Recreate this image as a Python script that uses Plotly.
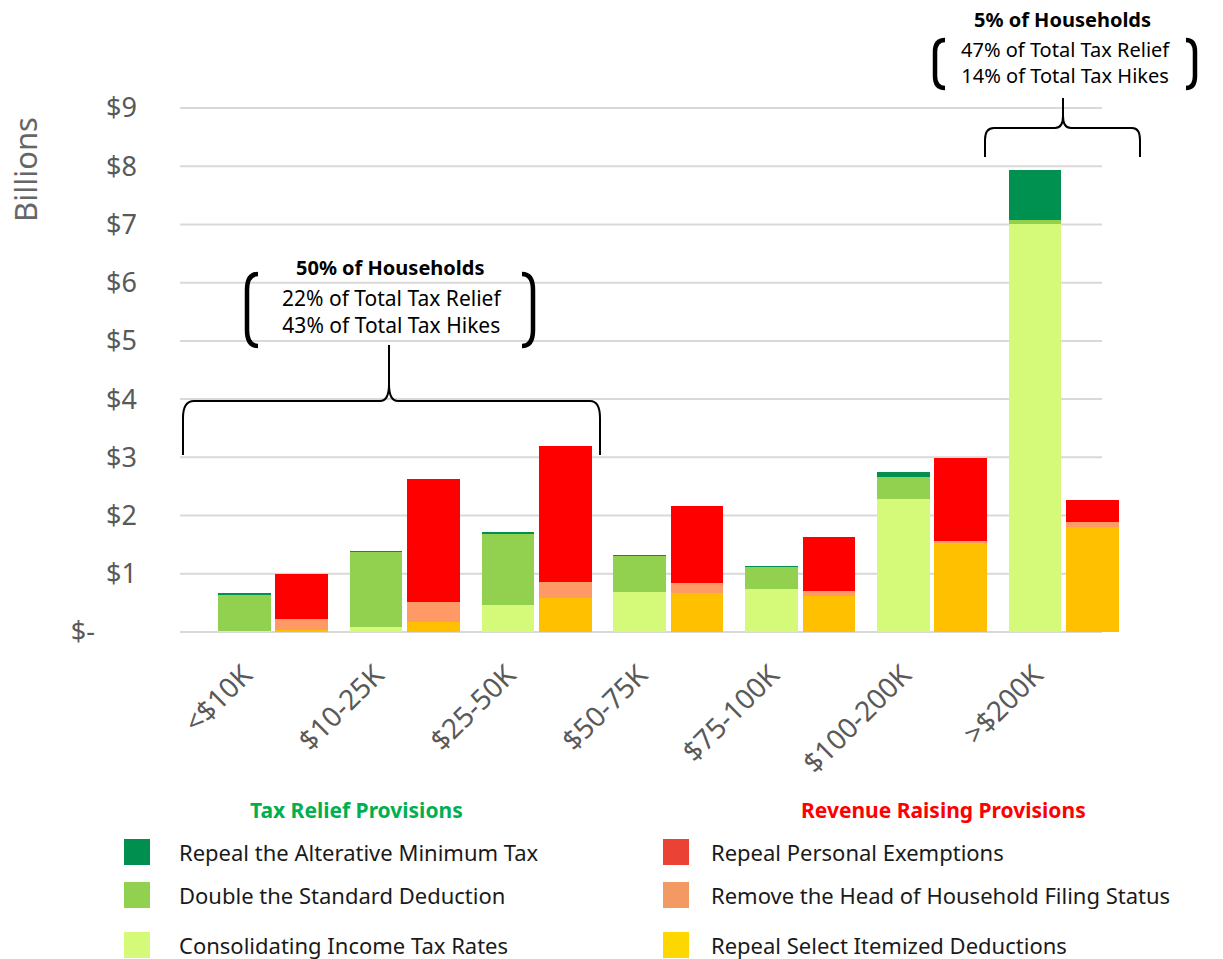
import plotly.graph_objects as go

# 소득구간별 세금 감면 / 증세 (단위: 10억 달러)
categories = ["<$10K", "$10-25K", "$25-50K", "$50-75K", "$75-100K", "$100-200K", ">$200K"]
ticks_y = [0, 1, 2, 3, 4, 5, 6, 7, 8, 9]
ticks_y_text = ["$-\u00a0\u00a0\u00a0\u00a0\u00a0\u00a0", "$1", "$2", "$3", "$4", "$5", "$6", "$7", "$8", "$9"]

# Tax relief provisions
amt = [0.02, 0.01, 0.02, 0.01, 0.01, 0.09, 0.86]
std_deduction = [0.63, 1.29, 1.24, 0.62, 0.38, 0.38, 0.07]
consolidating = [0.01, 0.09, 0.46, 0.69, 0.74, 2.28, 7.01]
# Revenue raising provisions
personal_exemptions = [0.77, 2.11, 2.34, 1.32, 0.92, 1.42, 0.38]
head_of_household = [0.19, 0.35, 0.28, 0.17, 0.09, 0.04, 0.09]
itemized = [0.04, 0.17, 0.58, 0.67, 0.62, 1.53, 1.80]

relief_names = ["Repeal the Alterative Minimum Tax", "Double the Standard Deduction",
                "Consolidating Income Tax Rates"]
raise_names = ["Repeal Personal Exemptions", "Remove the Head of Household Filing Status",
               "Repeal Select Itemized Deductions"]
relief_colors = ["#00904F", "#92D050", "#D5FA7A"]
raise_colors = ["#FF0000", "#FF9966", "#FFC000"]
relief_legend_colors = ["#008F4E", "#92D050", "#D5FA7A"]
raise_legend_colors = ["#EA4335", "#F39A64", "#FFD700"]

FONT = "Noto Sans, sans-serif"
GRAY = "#595959"
W, H = 1223, 959
L, R, T, B = 180, 1215, 5, 640        # plot area in pixels
X0_PX, X_STEP = 273, 131.8             # first group centre, group spacing
Y0_PX, Y_STEP = 632, 58.22             # $0 line, pixels per $1


def px_x(p):
    return (p - X0_PX) / X_STEP


def px_y(p):
    return (Y0_PX - p) / Y_STEP


def paper_x(p):
    return (p - L) / (R - L)


def paper_y(p):
    return (B - p) / (B - T)


n = len(categories)
x_relief = [i - 0.218 for i in range(n)]
x_raise = [i + 0.218 for i in range(n)]

fig = go.Figure()
relief_stack = [(consolidating, 2), (std_deduction, 1), (amt, 0)]
for vals, k in relief_stack:
    fig.add_trace(go.Bar(
        x=x_relief, y=vals, width=0.4, name=relief_names[k],
        marker=dict(color=relief_colors[k], line=dict(width=0)),
        customdata=categories,
        hovertemplate=f"<b>{relief_names[k]}</b><br>%{{customdata}}: $%{{y:.2f}}B<extra></extra>",
        showlegend=False,
    ))
raise_stack = [(itemized, 2), (head_of_household, 1), (personal_exemptions, 0)]
for vals, k in raise_stack:
    fig.add_trace(go.Bar(
        x=x_raise, y=vals, width=0.4, name=raise_names[k],
        marker=dict(color=raise_colors[k], line=dict(width=0)),
        customdata=categories,
        hovertemplate=f"<b>{raise_names[k]}</b><br>%{{customdata}}: $%{{y:.2f}}B<extra></extra>",
        showlegend=False,
    ))

shapes = []
# 가로 눈금선 (오른쪽 끝이 막대보다 짧음)
for v in ticks_y:
    shapes.append(dict(type="line", xref="x", yref="y", x0=px_x(L), x1=px_x(1102), y0=v, y1=v,
                       line=dict(color="#D9D9D9", width=2), layer="below"))


def path(points):
    out = []
    for cmd, pts in points:
        out.append(cmd + " " + " ".join(f"{px_x(a):.4f},{px_y(b):.4f}" for a, b in pts))
    return " ".join(out)


# 중괄호 (50% / 5%)
brace1 = path([("M", [(183, 455)]), ("L", [(183, 418)]), ("Q", [(183, 401), (194, 401)]),
               ("L", [(380, 401)]), ("Q", [(389, 401), (389, 384)]), ("L", [(389, 345)]),
               ("M", [(389, 384)]), ("Q", [(389, 401), (398, 401)]), ("L", [(590, 401)]),
               ("Q", [(600, 401), (600, 418)]), ("L", [(600, 455)])])
brace2 = path([("M", [(985, 157)]), ("L", [(985, 140)]), ("Q", [(985, 128), (994, 128)]),
               ("L", [(1055, 128)]), ("Q", [(1063, 128), (1063, 116)]), ("L", [(1063, 98)]),
               ("M", [(1063, 116)]), ("Q", [(1063, 128), (1071, 128)]), ("L", [(1132, 128)]),
               ("Q", [(1140, 128), (1140, 140)]), ("L", [(1140, 157)])])
for p in (brace1, brace2):
    shapes.append(dict(type="path", xref="x", yref="y", path=p, line=dict(color="black", width=2)))

# 텍스트 괄호
brackets = [
    [("M", [(258, 274)]), ("Q", [(247, 274), (247, 290)]), ("L", [(247, 330)]), ("Q", [(247, 346), (258, 346)])],
    [("M", [(522, 274)]), ("Q", [(533, 274), (533, 290)]), ("L", [(533, 330)]), ("Q", [(533, 346), (522, 346)])],
    [("M", [(945, 40)]), ("Q", [(935, 40), (935, 52)]), ("L", [(935, 76)]), ("Q", [(935, 88), (945, 88)])],
    [("M", [(1186, 40)]), ("Q", [(1195, 40), (1195, 52)]), ("L", [(1195, 76)]), ("Q", [(1195, 88), (1186, 88)])],
]
for b in brackets:
    shapes.append(dict(type="path", xref="x", yref="y", path=path(b), line=dict(color="black", width=4.5)))

annotations = []


def text(x, y, s, size=20, color="black", bold=False, xanchor="center", angle=0):
    annotations.append(dict(
        x=paper_x(x), y=paper_y(y), xref="paper", yref="paper", text=f"<b>{s}</b>" if bold else s,
        showarrow=False, xanchor=xanchor, yanchor="middle", textangle=angle,
        font=dict(family=FONT, size=size, color=color),
    ))


text(390, 267, "50% of Households", size=20, bold=True)
text(392, 311, "22% of Total Tax Relief<br>43% of Total Tax Hikes", size=21)
text(1062, 20, "5% of Households", size=20, bold=True)
text(1065, 63, "47% of Total Tax Relief<br>14% of Total Tax Hikes", size=20)

# y축 제목
text(25, 170, "Billions", size=31, color="#666666", angle=-90)

# 범례 (직접 그림)
text(356, 810, "Tax Relief Provisions", size=21, color="#00B050", bold=True)
text(943, 810, "Revenue Raising Provisions", size=21, color="#FF0000", bold=True)
rows_y = [852, 895, 945]
for i in range(3):
    for sx, tx, names, cols in ((124, 177, relief_names, relief_legend_colors),
                                (663, 709, raise_names, raise_legend_colors)):
        shapes.append(dict(type="rect", xref="paper", yref="paper", x0=paper_x(sx), x1=paper_x(sx + 26),
                           y0=paper_y(rows_y[i] + 13), y1=paper_y(rows_y[i] - 13),
                           fillcolor=cols[i], line=dict(width=0)))
        text(tx, rows_y[i], names[i], size=22, color="#1a1a1a", xanchor="left")

fig.update_layout(
    width=W, height=H, autosize=False,
    margin=dict(l=L, r=W - R, t=T, b=H - B, autoexpand=False),
    paper_bgcolor="white", plot_bgcolor="white",
    barmode="stack", bargap=0,
    font=dict(family=FONT, color=GRAY),
    shapes=shapes, annotations=annotations,
    showlegend=False,
)
fig.update_xaxes(
    range=[px_x(L), px_x(R)], tickmode="array",
    tickvals=[i - 0.22 for i in range(n)], ticktext=categories,
    tickangle=-45, tickfont=dict(size=28, color=GRAY), ticklabelstandoff=12,
    showgrid=False, zeroline=False, showline=False, ticks="", automargin=False,
)
fig.update_yaxes(
    range=[px_y(B), px_y(T)], tickmode="array", tickvals=ticks_y, ticktext=ticks_y_text,
    tickfont=dict(size=27, color=GRAY), ticklabelstandoff=42,
    showgrid=False, zeroline=False, showline=False, ticks="", automargin=False,
)

fig.write_html("out.html", config={"displayModeBar": False},
               post_script="document.body.style.margin='0';")
